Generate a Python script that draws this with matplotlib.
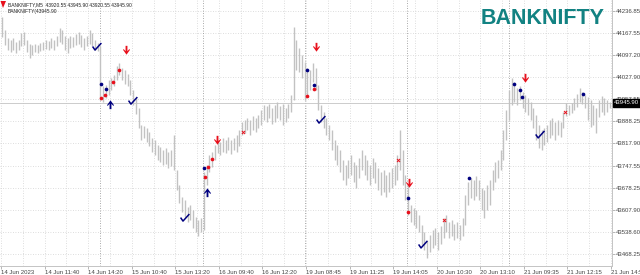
# %%
import matplotlib
matplotlib.use("Agg")
import matplotlib.pyplot as plt
import matplotlib.transforms as mtrans
from matplotlib.path import Path
import numpy as np

# %% data (10 minute bars, high / low)
highs = [44218, 44177, 44151, 44145, 44151, 44139, 44145, 44167, 44170, 44145,
         44132, 44129, 44132, 44129, 44136, 44139, 44145, 44142, 44151, 44145,
         44158, 44183, 44177, 44158, 44151, 44158, 44155, 44164, 44170, 44161,
         44151, 44158, 44177, 44167, 44145, 44136, 44126, 44000, 44003, 44019,
         44025, 44034, 44063, 44072, 44057, 44050, 44038, 44019, 43987, 43962,
         43930, 43876, 43873, 43867, 43854, 43835, 43829, 43813, 43807, 43797,
         43804, 43791, 43797, 43845, 43734, 43687, 43648, 43639, 43617, 43623,
         43607, 43585, 43576, 43582, 43728, 43750, 43781, 43791, 43813, 43829,
         43823, 43835, 43829, 43838, 43829, 43835, 43845, 43860, 43886, 43892,
         43898, 43892, 43905, 43898, 43908, 43924, 43940, 43936, 43943, 43930,
         43940, 43949, 43936, 43943, 43930, 43943, 43971, 44186, 44145, 44120,
         44098, 44076, 44057, 44050, 44072, 44057, 44003, 43940, 43917, 43898,
         43876, 43860, 43829, 43813, 43797, 43766, 43750, 43766, 43781, 43759,
         43750, 43772, 43797, 43781, 43766, 43750, 43772, 43759, 43741, 43728,
         43734, 43718, 43728, 43741, 43750, 43781, 43860, 43797, 43718, 43687,
         43623, 43614, 43607, 43592, 43560, 43538, 43513, 43528, 43544, 43550,
         43538, 43557, 43582, 43592, 43569, 43576, 43563, 43569, 43560, 43582,
         43655, 43696, 43709, 43702, 43715, 43702, 43677, 43671, 43687, 43702,
         43734, 43759, 43766, 43797, 43860, 43924, 43987, 44025, 44012, 43993,
         44000, 43981, 43971, 43962, 43949, 43930, 43908, 43876, 43860, 43867,
         43876, 43892, 43898, 43886, 43892, 43886, 43917, 43946, 43940, 43946,
         43962, 43974, 43993, 43981, 43971, 43965, 43955, 43940, 43930, 43955,
         43968, 43962, 43955, 43949]
lows = [44155, 44129, 44113, 44107, 44113, 44104, 44113, 44126, 44129, 44107,
        44088, 44098, 44107, 44104, 44110, 44113, 44117, 44113, 44120, 44113,
        44126, 44139, 44132, 44113, 44104, 44120, 44123, 44129, 44132, 44123,
        44113, 44126, 44132, 44126, 44113, 44110, 43955, 43949, 43962, 43971,
        43987, 44000, 44019, 44034, 44019, 44006, 44000, 43971, 43940, 43911,
        43867, 43829, 43835, 43823, 43810, 43791, 43781, 43766, 43759, 43750,
        43753, 43741, 43747, 43734, 43671, 43630, 43601, 43586, 43569, 43576,
        43550, 43538, 43525, 43538, 43544, 43687, 43728, 43744, 43766, 43788,
        43781, 43791, 43788, 43797, 43784, 43797, 43791, 43810, 43845, 43851,
        43860, 43845, 43860, 43854, 43867, 43876, 43892, 43886, 43898, 43879,
        43886, 43898, 43892, 43876, 43886, 43898, 43917, 43955, 44050, 44044,
        44025, 43955, 43968, 43987, 44012, 43987, 43924, 43886, 43867, 43845,
        43829, 43797, 43766, 43750, 43728, 43702, 43687, 43709, 43718, 43696,
        43677, 43709, 43734, 43718, 43702, 43687, 43709, 43693, 43671, 43655,
        43664, 43648, 43664, 43677, 43687, 43702, 43734, 43687, 43639, 43592,
        43569, 43560, 43550, 43538, 43497, 43481, 43456, 43474, 43487, 43497,
        43481, 43500, 43519, 43538, 43519, 43525, 43513, 43519, 43513, 43525,
        43560, 43623, 43645, 43639, 43652, 43639, 43607, 43582, 43607, 43623,
        43671, 43696, 43709, 43734, 43766, 43829, 43892, 43940, 43949, 43940,
        43955, 43930, 43917, 43908, 43892, 43867, 43829, 43804, 43797, 43813,
        43823, 43835, 43845, 43829, 43845, 43838, 43867, 43905, 43908, 43914,
        43924, 43933, 43949, 43943, 43930, 43892, 43870, 43876, 43851, 43902,
        43917, 43908, 43917, 43930]
last_price = 43945.90
ohlc_text = "BANKNIFTY,M5  43920.55 43945.90 43920.55 43945.90"
ind_text = "BANKNIFTY(43945.90"

y_ticks = [44236.85, 44167.55, 44097.20, 44027.90, 43957.55, 43888.25,
           43817.90, 43747.55, 43678.25, 43607.90, 43538.60, 43468.25]
x_labels = ["14 Jun 2023", "14 Jun 11:40", "14 Jun 14:20", "15 Jun 10:40",
            "15 Jun 13:20", "16 Jun 09:40", "16 Jun 12:20", "19 Jun 08:45",
            "19 Jun 11:25", "19 Jun 14:05", "20 Jun 10:30", "20 Jun 13:10",
            "21 Jun 09:35", "21 Jun 12:15", "21 Jun 14:55"]
day_breaks = [73, 148, 223, 298, 373]   # in M5 bars

# signals (x in M5 bars, y in price)
check_x = [70.5, 96.9, 135.1, 235.0, 309.9, 395.9]
check_y = [44123, 43952, 43582, 43892, 43497, 43845]
down_x = [91.8, 158.6, 231.3, 299.6, 384.8]
down_y = [44113, 43829, 44123, 43693, 44025]
up_x = [80.1, 151.3]
up_y = [43943, 43664]
bdot_x = [73.4, 77.1, 149.1, 225.0, 230.0, 298.9, 343.7, 376.8, 381.2, 382.6, 427.4]
bdot_y = [44006, 43990, 43741, 44050, 44003, 43645, 43709, 44006, 43987, 43965, 43974]
rdot_x = [73.4, 76.4, 82.3, 86.7, 149.8, 152.0, 155.0, 225.0, 230.0, 298.9]
rdot_y = [43962, 43971, 44012, 44050, 43712, 43744, 43769, 43968, 43990, 43601]
rx_x = [177.7, 291.6, 325.4, 414.2]
rx_y = [43854, 43766, 43576, 43917]

# %% styling
bar_col = '#c2c2c2'
grid_col = '#d2d2d2'
sep_col = '#8c8c8c'
navy = '#00007f'
red = '#e8101c'
fs = 4.3
small_font = 'Liberation Sans'

down_arrow = Path([(-0.2, 1), (0.2, 1), (0.2, -0.15), (0.6, 0.3), (0.75, 0.15),
                   (0, -0.9), (-0.75, 0.15), (-0.6, 0.3), (-0.2, -0.15), (-0.2, 1)])
up_arrow = Path([(x, -y) for x, y in down_arrow.vertices])
check = Path([(-1, 0.1), (-0.45, -0.7), (1, 0.9)], [Path.MOVETO, Path.LINETO, Path.LINETO])

fig = plt.figure(figsize=(6.4, 2.75), dpi=100)
ax = fig.add_axes([0, 9 / 275, 612 / 640, 266 / 275])

xs = np.arange(len(highs)) * 2 + 1
ax.vlines(xs, lows, highs, color=bar_col, lw=1.0, zorder=2)

# grid + day separators
for gx in np.arange(0, 449, 16):
    ax.axvline(gx, color=grid_col, lw=0.6, ls=(0, (1, 2)), zorder=0)
for gy in y_ticks:
    ax.axhline(gy, color=grid_col, lw=0.6, ls=(0, (1, 2)), zorder=0)
for d in day_breaks:
    ax.axvline(d, color=sep_col, lw=0.6, ls=(0, (1, 2)), zorder=1)

# bid line
ax.axhline(last_price, color='#c4c4c4', lw=0.6, zorder=1)

# signals
ax.scatter(check_x, check_y, marker=check, s=40, facecolors='none',
           edgecolors=navy, linewidths=1.1, zorder=5)
ax.scatter(down_x, down_y, marker=down_arrow, s=45, color=red, lw=0, zorder=5)
ax.scatter(up_x, up_y, marker=up_arrow, s=45, color=navy, lw=0, zorder=5)
ax.scatter(bdot_x, bdot_y, s=7, color=navy, lw=0, zorder=5)
ax.scatter(rdot_x, rdot_y, s=7, color=red, lw=0, zorder=5)
ax.scatter(rx_x, rx_y, marker='x', s=5, color=red, lw=0.7, zorder=5)

ax.set_xlim(-0.73, 448.7)
ax.set_ylim(43430.2, 44271.6)

ax.yaxis.tick_right()
ax.set_yticks(y_ticks)
ax.set_yticklabels([f"{v:.2f}" for v in y_ticks], family=small_font)
ax.set_xticks(np.arange(0, 449, 32))
ax.set_xticklabels(x_labels, ha='left', family=small_font)
ax.tick_params(axis='both', labelsize=fs, colors='#9a9a9a', length=2, width=0.5,
               labelcolor='#444444', pad=0.8)

for side in ['top', 'left']:
    ax.spines[side].set_visible(False)
for side in ['right', 'bottom']:
    ax.spines[side].set_color('#c4c4c4')
    ax.spines[side].set_linewidth(0.7)

# current price box
tr = mtrans.blended_transform_factory(ax.transAxes, ax.transData)
ax.text(1.003, last_price, f"{last_price:.2f}", transform=tr, fontsize=fs,
        family=small_font, color='white', va='center', ha='left', zorder=10,
        bbox=dict(boxstyle='square,pad=0.2', fc='black', ec='black'))

# header texts
fig.text(8 / 640, 1 - 5 / 275, ohlc_text, fontsize=3.5, family=small_font,
         color='#222222', va='center')
fig.text(8 / 640, 1 - 12 / 275, ind_text, fontsize=3.5, family=small_font,
         color='#222222', va='center')
fig.patches.append(plt.Polygon([(0.5 / 640, 1 - 1 / 275), (6 / 640, 1 - 1 / 275),
                                (3 / 640, 1 - 8 / 275)], closed=True,
                               transform=fig.transFigure, fc=red, ec='none'))
fig.text(605 / 640, 1 - 18 / 275, "BANKNIFTY", fontsize=15.5, fontweight='bold',
         family='Liberation Sans', color='#128282', ha='right', va='center')

plt.savefig('out.png', dpi=100)
